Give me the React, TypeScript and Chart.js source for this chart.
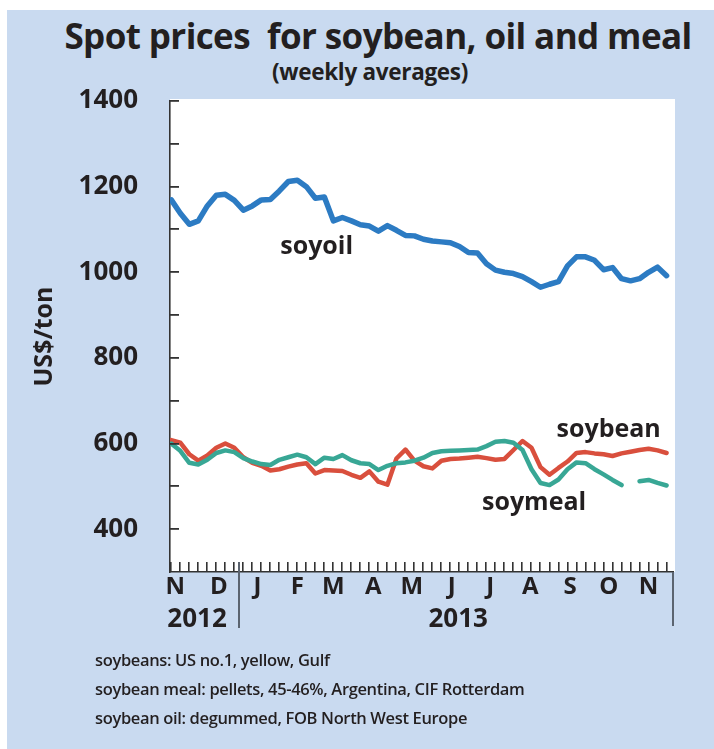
import React, { useEffect, useRef } from "react";
import { Chart, registerables } from "chart.js";

Chart.register(...registerables);

// Weekly spot prices, US$/ton, first week ending 9 Nov 2012
const firstWeek = "2012-11-09";
const soyoil = [1169, 1138, 1112, 1120, 1155, 1180, 1182, 1168, 1145, 1155, 1169, 1170, 1190, 1212, 1215, 1200, 1173, 1176, 1120, 1128, 1120, 1111, 1108, 1096, 1109, 1098, 1086, 1085, 1077, 1073, 1071, 1069, 1060, 1046, 1045, 1020, 1005, 1000, 997, 990, 978, 965, 972, 978, 1015, 1036, 1036, 1028, 1006, 1011, 985, 980, 985, 1000, 1012, 992];
const soybean = [608, 602, 575, 560, 572, 590, 600, 590, 568, 555, 548, 537, 540, 546, 551, 554, 530, 538, 537, 536, 527, 520, 535, 511, 504, 565, 586, 560, 547, 542, 560, 564, 565, 567, 569, 566, 562, 564, 585, 606, 590, 545, 527, 543, 558, 578, 580, 577, 575, 571, 577, 581, 585, 588, 584, 578];
const soymeal = [600, 583, 555, 551, 562, 578, 584, 580, 566, 558, 552, 550, 562, 568, 574, 568, 552, 567, 564, 573, 561, 554, 552, 538, 548, 554, 556, 560, 567, 578, 582, 583, 584, 585, 586, 594, 604, 606, 602, 585, 540, 508, 503, 516, 540, 556, 554, 540, 528, 515, 503, null, 512, 515, 508, 502];

const monthLetters = ["N", "D", "J", "F", "M", "A", "M", "J", "J", "A", "S", "O", "N"];
const monthMids = ["2012-11-12", "2012-12-16", "2013-01-15", "2013-02-15", "2013-03-15", "2013-04-15", "2013-05-15", "2013-06-15", "2013-07-15", "2013-08-15", "2013-09-15", "2013-10-15", "2013-11-15"];
const yearLabels = ["2012", "2013"];
const yearCenters = ["2012-11-29", "2013-06-20"];
const yearBoundary = "2013-01-01";
const axisStart = "2012-11-08";
const axisEnd = "2013-12-04";

const seriesNames = ["soyoil", "soybean", "soymeal"];
const seriesLabelDates = ["2013-03-02", "2013-10-15", "2013-08-18"];
const seriesLabelValues = [1059, 632, 462];

const colors = ["#2c7bc3", "#d94f3d", "#38a795"];

const DAY = 86400000;
const origin = Date.UTC(2013, 0, 1);
const toDay = (iso: string) => {
  const [y, m, d] = iso.split("-").map(Number);
  return (Date.UTC(y, m - 1, d) - origin) / DAY;
};
const startDay = toDay(firstWeek);
const weekDays: number[] = [];
for (let i = 0; i < soyoil.length; i++) weekDays.push(startDay + 7 * i);

const FONT = '"Open Sans", "Noto Sans", sans-serif';
const INK = "#231f20";

const decor = {
  id: "decor",
  beforeDraw(chart: any) {
    const { ctx, chartArea: a } = chart;
    ctx.save();
    ctx.fillStyle = "#ffffff";
    ctx.fillRect(a.left, a.top - 2, a.right - a.left + 2, a.bottom - a.top + 2);
    ctx.restore();
  },
  afterDraw(chart: any) {
    const { ctx, chartArea: a, scales } = chart;
    const x = scales.x;
    const y = scales.y;
    const base = x.top;
    ctx.save();
    ctx.fillStyle = "#333333";
    for (let i = 0; i < weekDays.length; i++) {
      const px = Math.round(x.getPixelForValue(weekDays[i]));
      ctx.fillRect(px - 1, base - 10, 1.6, 10);
    }
    for (let v = 400; v <= 1400; v += 100) {
      const py = Math.round(y.getPixelForValue(v));
      ctx.fillRect(a.left, py - 1, 9, 1.8);
    }
    ctx.fillStyle = "#5b6470";
    const sx = Math.round(x.getPixelForValue(toDay(yearBoundary)));
    ctx.fillRect(sx - 1, base - 10, 2, 66);
    ctx.fillRect(Math.round(a.right) - 1, base, 2, 54);
    ctx.fillStyle = INK;
    ctx.font = `bold 25px ${FONT}`;
    ctx.textAlign = "center";
    ctx.textBaseline = "middle";
    seriesNames.forEach((n, i) => {
      ctx.fillText(n, x.getPixelForValue(toDay(seriesLabelDates[i])), y.getPixelForValue(seriesLabelValues[i]));
    });
    ctx.restore();
  },
};

export default function App() {
  const ref = useRef<HTMLCanvasElement | null>(null);
  useEffect(() => {
    if (!ref.current) return;
    const mk = (vals: (number | null)[], color: string, width: number) => ({
      data: vals.map((v, i) => ({ x: weekDays[i], y: v })),
      borderColor: color,
      backgroundColor: color,
      borderWidth: width,
      pointRadius: 0,
      tension: 0,
      borderJoinStyle: "round" as const,
      borderCapStyle: "round" as const,
      spanGaps: false,
    });
    const chart = new Chart(ref.current, {
      type: "line",
      data: {
        datasets: [
          { label: seriesNames[0], ...mk(soyoil, colors[0], 5.5) },
          { label: seriesNames[2], ...mk(soymeal, colors[2], 4.5) },
          { label: seriesNames[1], ...mk(soybean, colors[1], 4.5) },
        ],
      },
      options: {
        animation: false,
        responsive: false,
        devicePixelRatio: 1,
        layout: { padding: { left: 0, top: 101, right: 41, bottom: 113 } },
        plugins: { legend: { display: false }, tooltip: { enabled: false }, title: { display: false } },
        scales: {
          y: {
            type: "linear",
            position: "left",
            min: 300,
            max: 1400,
            afterFit: (s: any) => {
              s.width = 170;
            },
            grid: { display: false, drawTicks: false },
            border: { display: true, color: "#333333", width: 1.6 },
            title: {
              display: true,
              text: "US$/ton",
              color: INK,
              font: { family: FONT, size: 25, weight: "bold" },
              padding: { top: 30, bottom: 0 },
            },
            ticks: {
              stepSize: 100,
              padding: 32,
              color: INK,
              font: { family: FONT, size: 26, weight: "bold" },
              callback: (v: any) => (Number(v) % 200 === 0 && Number(v) >= 400 ? String(v) : ""),
            },
          },
          x: {
            type: "linear",
            position: "bottom",
            min: toDay(axisStart),
            max: toDay(axisEnd),
            afterFit: (s: any) => {
              s.height = 32;
            },
            afterBuildTicks: (s: any) => {
              s.ticks = monthMids.map((m) => ({ value: toDay(m) }));
            },
            grid: { display: false, drawTicks: false },
            border: { display: true, color: "#333333", width: 1.6 },
            ticks: {
              autoSkip: false,
              maxRotation: 0,
              padding: 1,
              color: INK,
              font: { family: FONT, size: 24, weight: "bold" },
              callback: (_v: any, i: number) => monthLetters[i],
            },
          },
          x2: {
            type: "linear",
            position: "bottom",
            min: toDay(axisStart),
            max: toDay(axisEnd),
            afterFit: (s: any) => {
              s.height = 32;
            },
            afterBuildTicks: (s: any) => {
              s.ticks = yearCenters.map((m) => ({ value: toDay(m) }));
            },
            grid: { display: false, drawTicks: false },
            border: { display: false },
            ticks: {
              autoSkip: false,
              maxRotation: 0,
              padding: 0,
              color: INK,
              font: { family: FONT, size: 26, weight: "bold" },
              callback: (_v: any, i: number) => yearLabels[i],
            },
          },
        },
      },
      plugins: [decor],
    } as any);
    return () => chart.destroy();
  }, []);

  return (
    <div style={{ position: "absolute", left: 0, top: 0, width: 714, height: 749, background: "#fff", overflow: "hidden", fontFamily: FONT, color: INK }}>
      <div style={{ position: "absolute", left: 7, top: 10, width: 707, height: 739, background: "#c9daf0" }} />
      <div style={{ position: "absolute", left: 378, top: 12, transform: "translateX(-50%)", whiteSpace: "pre", fontSize: 35, lineHeight: "48px", fontWeight: 700, letterSpacing: -0.6 }}>
        {"Spot prices  for soybean, oil and meal"}
      </div>
      <div style={{ position: "absolute", left: 370, top: 58, transform: "translateX(-50%)", whiteSpace: "pre", fontSize: 22.5, lineHeight: "28px", fontWeight: 700, letterSpacing: -0.3 }}>
        (weekly averages)
      </div>
      <canvas ref={ref} width={714} height={749} style={{ position: "absolute", left: 0, top: 0, width: 714, height: 749 }} />
      <div style={{ position: "absolute", left: 95, top: 645, fontSize: 16.5, fontWeight: 600, lineHeight: "29px", letterSpacing: -0.35, whiteSpace: "pre" }}>
        <div>soybeans: US no.1, yellow, Gulf</div>
        <div>soybean meal: pellets, 45-46%, Argentina, CIF Rotterdam</div>
        <div>soybean oil: degummed, FOB North West Europe</div>
      </div>
    </div>
  );
}
